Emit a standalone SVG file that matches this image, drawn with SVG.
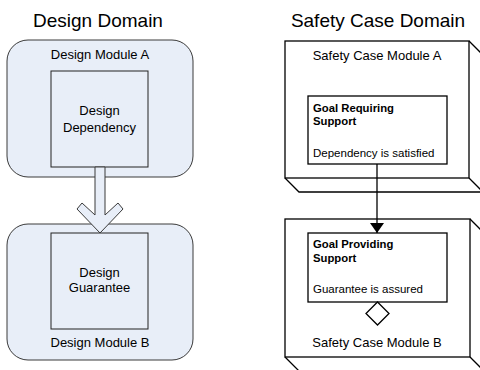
<svg xmlns="http://www.w3.org/2000/svg" width="480" height="370" viewBox="0 0 480 370">
<defs>
<style>
text{font-family:"Liberation Sans",Arial,sans-serif;fill:#000}
.title{font-size:19px;text-anchor:middle}
.lbl{font-size:13px;text-anchor:middle}
.gb{font-size:11.3px;font-weight:bold}
.gt{font-size:11.5px}
.mod{fill:#e8eef8;stroke:#3a3a3a;stroke-width:1}
.inner{fill:#e8eef8;stroke:#222;stroke-width:1}
.box{fill:#fff;stroke:#000;stroke-width:1.3}
.edge{fill:none;stroke:#000;stroke-width:1.3}
</style>
<marker id="ah" viewBox="0 0 10 14" refX="10" refY="7" markerWidth="10" markerHeight="14" markerUnits="userSpaceOnUse" orient="auto"><path d="M0,0 L10,7 L0,14 z" fill="#000"/></marker>
</defs>
<rect width="480" height="370" fill="#fff"/>
<text class="title" x="98" y="26.5">Design Domain</text>
<text class="title" x="378" y="26.5">Safety Case Domain</text>

<g id="design-module-a">
<rect class="mod" x="7" y="40" width="186" height="137" rx="21" ry="21"/>
<text class="lbl" x="100" y="58.5">Design Module A</text>
</g>
<g id="design-dependency">
<rect class="inner" x="51" y="71" width="97" height="96"/>
<text class="lbl" x="99.5" y="115">Design</text>
<text class="lbl" x="99.5" y="131.5">Dependency</text>
</g>
<g id="design-module-b">
<rect class="mod" x="7" y="224" width="186" height="136" rx="21" ry="21"/>
<text class="lbl" x="100" y="347">Design Module B</text>
</g>
<g id="design-guarantee">
<rect class="inner" x="51" y="233" width="97" height="96"/>
<text class="lbl" x="99.5" y="276.5">Design</text>
<text class="lbl" x="99.5" y="292">Guarantee</text>
</g>

<g id="safety-case-module-a">
<path class="edge" d="M469,41 L483,55 M285,178 L299,192 L485,192 M469,178 L483,192"/>
<rect class="box" x="285" y="41" width="184" height="137"/>
<text class="lbl" x="377" y="59.5">Safety Case Module A</text>
</g>
<g id="goal-requiring-support">
<rect class="box" x="308" y="96" width="139" height="68"/>
<text class="gb" x="313" y="112">Goal Requiring</text>
<text class="gb" x="313" y="124.5">Support</text>
<text class="gt" x="313" y="157">Dependency is satisfied</text>
</g>
<g id="safety-case-module-b">
<path class="edge" d="M470,219 L484,233 M285,357 L299,371 M470,357 L484,371"/>
<rect class="box" x="285" y="219" width="185" height="138"/>
<text class="lbl" x="377" y="347">Safety Case Module B</text>
</g>
<g id="goal-providing-support">
<rect class="box" x="308" y="233" width="139" height="69"/>
<text class="gb" x="313" y="248">Goal Providing</text>
<text class="gb" x="313" y="262">Support</text>
<text class="gt" x="313" y="293">Guarantee is assured</text>
<path class="box" d="M377.5,302 L389,313.5 L377.5,325 L366,313.5 z"/>
</g>

<g id="connectors">
<polygon points="95,167 105,167 105,215 118,203 123,209 100,233 77,209 82,203 95,215" fill="#e8eef8" stroke="#3a3a3a" stroke-width="1" stroke-linejoin="miter"/>
<line x1="377" y1="164" x2="377" y2="233" stroke="#000" stroke-width="1.3" marker-end="url(#ah)"/>
</g>
</svg>
